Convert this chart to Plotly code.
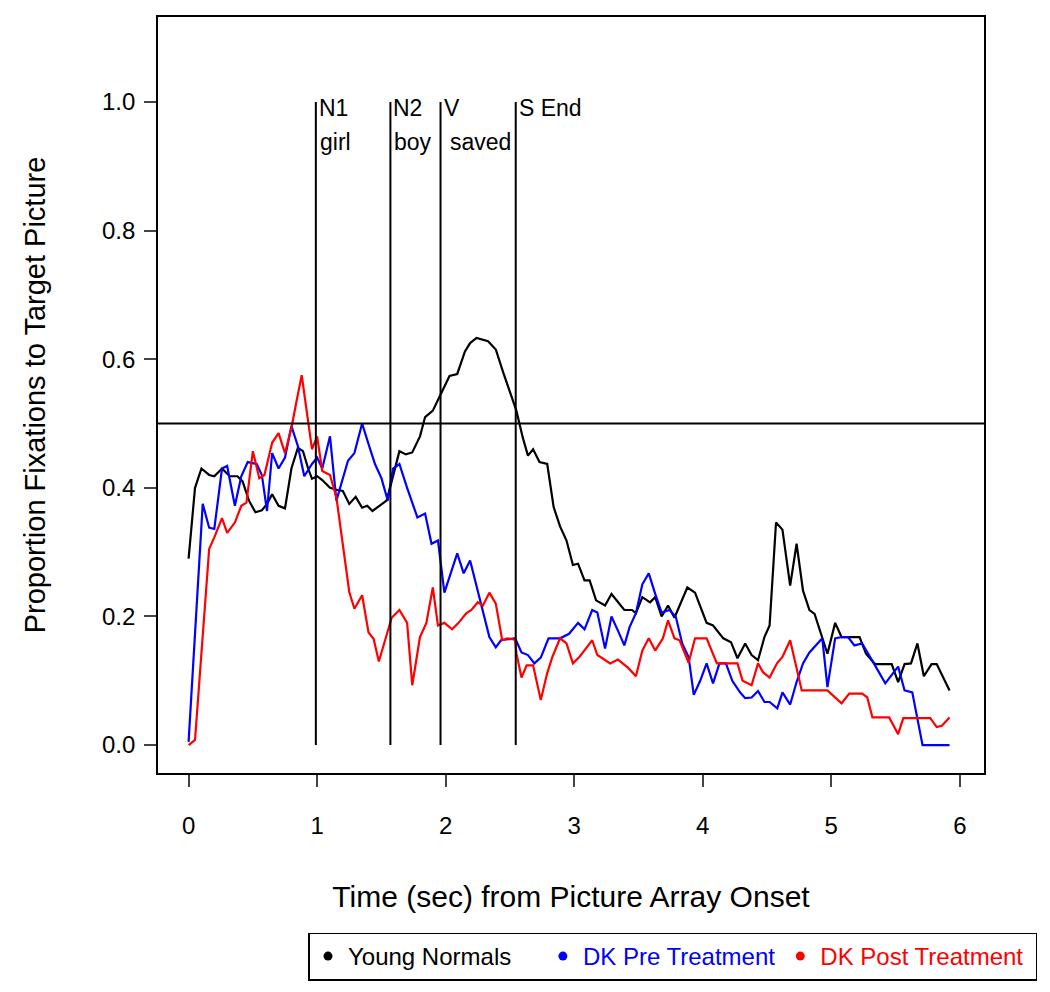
import plotly.graph_objects as go

# ---- data ----
yn_t = [0.00,0.05,0.10,0.16,0.20,0.26,0.32,0.38,0.42,0.47,0.52,0.57,0.61,0.65,0.70,0.75,0.80,0.85,0.89,0.93,0.96,1.00,1.04,1.10,1.15,1.20,1.25,1.30,1.35,1.39,1.43,1.49,1.54,1.58,1.64,1.69,1.74,1.80,1.84,1.90,1.95,2.03,2.09,2.15,2.19,2.24,2.33,2.39,2.45,2.50,2.55,2.60,2.64,2.68,2.73,2.79,2.84,2.89,2.94,2.99,3.03,3.08,3.12,3.17,3.24,3.29,3.34,3.39,3.45,3.48,3.53,3.59,3.63,3.68,3.73,3.78,3.88,3.94,4.03,4.08,4.16,4.22,4.27,4.33,4.38,4.43,4.48,4.52,4.57,4.62,4.68,4.73,4.78,4.83,4.87,4.93,4.97,5.03,5.08,5.22,5.27,5.34,5.47,5.52,5.57,5.62,5.67,5.72,5.78,5.82,5.92]
yn_v = [0.29,0.40,0.43,0.42,0.418,0.43,0.418,0.418,0.41,0.38,0.362,0.365,0.375,0.39,0.372,0.368,0.43,0.462,0.457,0.43,0.414,0.418,0.412,0.40,0.397,0.395,0.375,0.386,0.369,0.372,0.364,0.372,0.38,0.41,0.457,0.452,0.455,0.48,0.51,0.52,0.54,0.574,0.577,0.612,0.625,0.633,0.628,0.615,0.578,0.55,0.52,0.478,0.45,0.46,0.44,0.437,0.37,0.34,0.318,0.28,0.282,0.256,0.256,0.225,0.217,0.235,0.222,0.21,0.21,0.205,0.23,0.222,0.23,0.20,0.217,0.198,0.245,0.237,0.19,0.186,0.166,0.16,0.135,0.158,0.14,0.132,0.168,0.186,0.346,0.335,0.248,0.313,0.24,0.21,0.204,0.168,0.142,0.19,0.168,0.168,0.142,0.126,0.126,0.098,0.126,0.127,0.158,0.107,0.126,0.126,0.085]

pre_t = [0.00,0.11,0.16,0.20,0.26,0.30,0.36,0.41,0.46,0.53,0.57,0.61,0.65,0.70,0.75,0.80,0.85,0.90,0.96,1.00,1.04,1.10,1.15,1.24,1.29,1.35,1.40,1.45,1.50,1.55,1.59,1.64,1.70,1.78,1.84,1.89,1.94,1.99,2.09,2.14,2.19,2.25,2.34,2.39,2.43,2.54,2.59,2.64,2.69,2.74,2.80,2.89,2.96,3.03,3.08,3.14,3.18,3.24,3.29,3.34,3.39,3.43,3.48,3.53,3.58,3.63,3.68,3.74,3.79,3.84,3.89,3.93,3.98,4.03,4.08,4.13,4.18,4.23,4.29,4.33,4.38,4.43,4.48,4.52,4.58,4.62,4.68,4.73,4.78,4.83,4.93,4.97,5.03,5.08,5.13,5.18,5.24,5.34,5.42,5.52,5.57,5.63,5.71,5.92]
pre_v = [0.005,0.375,0.338,0.336,0.43,0.434,0.372,0.418,0.44,0.437,0.42,0.364,0.454,0.43,0.447,0.496,0.465,0.418,0.437,0.447,0.43,0.48,0.38,0.442,0.454,0.50,0.468,0.437,0.415,0.38,0.43,0.437,0.40,0.354,0.36,0.313,0.318,0.237,0.298,0.267,0.287,0.24,0.168,0.152,0.163,0.166,0.144,0.14,0.127,0.136,0.166,0.166,0.173,0.19,0.18,0.21,0.206,0.15,0.20,0.178,0.155,0.183,0.205,0.25,0.267,0.235,0.206,0.21,0.20,0.158,0.137,0.078,0.10,0.127,0.096,0.127,0.127,0.10,0.082,0.073,0.074,0.084,0.067,0.067,0.057,0.082,0.063,0.098,0.127,0.144,0.166,0.09,0.166,0.168,0.168,0.155,0.158,0.124,0.096,0.122,0.085,0.082,0.0,0.0]

post_t = [0.00,0.05,0.16,0.20,0.26,0.30,0.36,0.41,0.45,0.50,0.55,0.59,0.65,0.70,0.75,0.80,0.84,0.88,0.96,1.00,1.04,1.10,1.15,1.20,1.25,1.29,1.35,1.40,1.44,1.48,1.58,1.64,1.70,1.74,1.80,1.85,1.90,1.94,1.99,2.05,2.10,2.16,2.20,2.25,2.29,2.34,2.39,2.44,2.48,2.54,2.55,2.59,2.63,2.68,2.74,2.79,2.83,2.89,2.94,2.99,3.04,3.09,3.14,3.18,3.28,3.34,3.42,3.48,3.53,3.58,3.63,3.69,3.73,3.78,3.82,3.89,3.94,4.03,4.11,4.27,4.31,4.38,4.43,4.47,4.52,4.58,4.62,4.68,4.77,4.97,5.08,5.14,5.24,5.28,5.32,5.45,5.52,5.56,5.77,5.82,5.86,5.92]
post_v = [0.0,0.008,0.305,0.323,0.353,0.33,0.346,0.372,0.377,0.457,0.415,0.42,0.47,0.485,0.454,0.493,0.535,0.575,0.46,0.48,0.426,0.42,0.385,0.31,0.238,0.212,0.233,0.175,0.165,0.13,0.198,0.21,0.19,0.093,0.168,0.19,0.245,0.186,0.19,0.18,0.19,0.205,0.21,0.222,0.217,0.237,0.22,0.163,0.166,0.164,0.143,0.105,0.124,0.124,0.07,0.112,0.137,0.166,0.158,0.127,0.137,0.15,0.163,0.14,0.127,0.133,0.12,0.107,0.147,0.166,0.147,0.166,0.194,0.166,0.163,0.128,0.166,0.166,0.127,0.127,0.10,0.093,0.127,0.113,0.105,0.128,0.137,0.163,0.085,0.085,0.065,0.08,0.08,0.074,0.043,0.043,0.017,0.042,0.042,0.028,0.03,0.043]

series_names = ["Young Normals", "DK Pre Treatment", "DK Post Treatment"]
series_colors = ["#000000", "#0000FF", "#FF0000"]
legend_pad = [4, 0, 1]  # trailing spaces after each legend label

event_times = [0.99, 1.57, 1.96, 2.545]
event_top = ["N1", "N2", "V", "S End"]
event_bottom = ["girl", "boy", "saved", ""]
event_bottom_shift = [2, 2, 7, 2]

x_ticks = [0, 1, 2, 3, 4, 5, 6]
y_ticks = [0.0, 0.2, 0.4, 0.6, 0.8, 1.0]
y_tick_labels = ["0.0", "0.2", "0.4", "0.6", "0.8", "1.0"]

FONT = "Liberation Sans, Arial, sans-serif"

fig = go.Figure()
for t, v, name, col in zip([yn_t, pre_t, post_t], [yn_v, pre_v, post_v], series_names, series_colors):
    fig.add_trace(go.Scatter(x=t, y=v, mode="lines", line=dict(color=col, width=2.2),
                             showlegend=False, legendgroup=name, hoverinfo="skip"))
for name, col, pad in zip(series_names, series_colors, legend_pad):
    fig.add_trace(go.Scatter(x=[None], y=[None], mode="markers",
                             marker=dict(color=col, size=9),
                             name=f'<span style="color:{col}">{name}</span>' + "&nbsp;" * pad,
                             legendgroup=name, showlegend=True))

shapes = []
for et in event_times:
    shapes.append(dict(type="line", xref="x", yref="y", x0=et, x1=et, y0=0, y1=1.0,
                       line=dict(color="black", width=2)))
shapes.append(dict(type="line", xref="paper", yref="y", x0=0, x1=1, y0=0.5, y1=0.5,
                   line=dict(color="black", width=2)))

annotations = []
for et, top, bot, bs in zip(event_times, event_top, event_bottom, event_bottom_shift):
    annotations.append(dict(x=et, y=0.99, xref="x", yref="y", text=top, showarrow=False,
                            xanchor="left", yanchor="middle", xshift=1,
                            font=dict(family=FONT, size=23, color="black")))
    if bot:
        annotations.append(dict(x=et, y=0.938, xref="x", yref="y", text=bot, showarrow=False,
                                xanchor="left", yanchor="middle", xshift=bs,
                                font=dict(family=FONT, size=23, color="black")))

fig.update_layout(
    width=1050, height=992,
    margin=dict(l=150, r=74, t=7, b=227),
    paper_bgcolor="white", plot_bgcolor="white",
    font=dict(family=FONT, size=24, color="black"),
    shapes=shapes, annotations=annotations,
    showlegend=True,
    legend=dict(orientation="h", x=0.1816, y=-0.211, xanchor="left", yanchor="top",
                bordercolor="black", borderwidth=1.5, bgcolor="white",
                font=dict(family=FONT, size=24), itemwidth=30, tracegroupgap=0),
    xaxis=dict(range=[-0.238, 6.188], tickvals=x_ticks, ticks="outside", ticklen=12,
               tickwidth=1.5, showgrid=False, zeroline=False, showline=True,
               linecolor="black", linewidth=1.8, mirror=True,
               tickfont=dict(size=24), ticklabelstandoff=18,
               title=dict(text="Time (sec) from Picture Array Onset", font=dict(size=30), standoff=48)),
    yaxis=dict(range=[-0.0434, 1.132], tickvals=y_ticks, ticktext=y_tick_labels,
               ticks="outside", ticklen=12, tickwidth=1.5, showgrid=False, zeroline=False,
               showline=True, linecolor="black", linewidth=1.8, mirror=True,
               tickfont=dict(size=24), ticklabelstandoff=4,
               title=dict(text="Proportion Fixations to Target Picture", font=dict(size=29), standoff=48)),
)

fig.write_html("out.html")
